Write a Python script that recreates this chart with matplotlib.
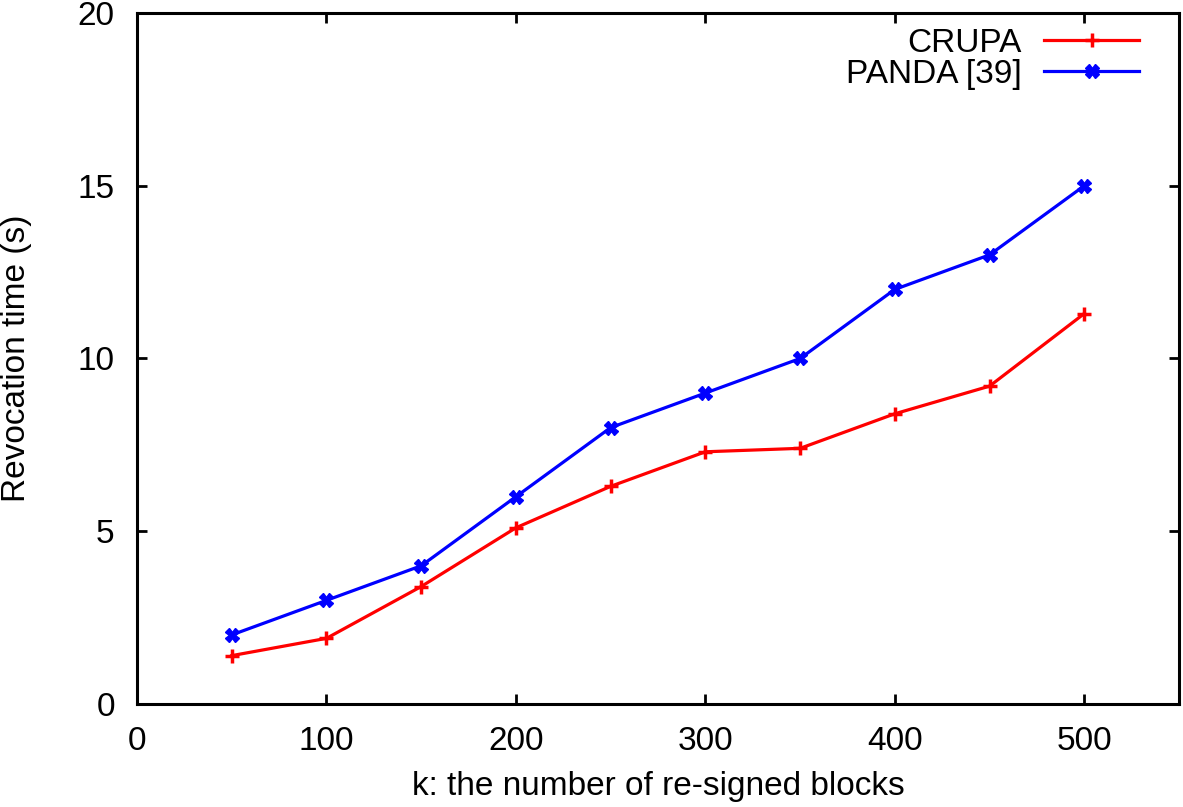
import matplotlib
matplotlib.use("Agg")
import matplotlib.pyplot as plt

plt.rcParams['font.family'] = ['Liberation Sans', 'DejaVu Sans']

k = [50, 100, 150, 200, 250, 300, 350, 400, 450, 500]
crupa = [1.4, 1.9, 3.4, 5.1, 6.3, 7.3, 7.4, 8.4, 9.2, 11.3]
panda = [2, 3, 4, 6, 8, 9, 10, 12, 13, 15]

W, H = 1183, 807
fig = plt.figure(figsize=(W / 100, H / 100), dpi=100)
ax = fig.add_axes([137 / W, (H - 704) / H, 1042 / W, 691 / H])

ax.plot(k, crupa, color='#ff0000', lw=2.3, marker='+', ms=10, mew=2.5, label='CRUPA')
ax.plot(k, panda, color='#0000ff', lw=2.3, marker='X', ms=10, mew=1, label='PANDA [39]')

ax.set_xlim(0, 550)
ax.set_ylim(0, 20)
ax.set_xticks([0, 100, 200, 300, 400, 500])
ax.set_yticks([0, 5, 10, 15, 20])
ax.tick_params(direction='in', length=7, width=2, labelsize=24, top=True, right=True, pad=16)
for s in ax.spines.values():
    s.set_linewidth(2.2)
ax.set_xlabel('k: the number of re-signed blocks', fontsize=24, labelpad=10)
ax.set_ylabel('Revocation time (s)', fontsize=24, labelpad=33)

ax.legend(loc='upper right', bbox_to_anchor=(1139 / W, (H - 28) / H),
          bbox_transform=fig.transFigure, frameon=False, markerfirst=False,
          fontsize=24, handlelength=2.85, borderaxespad=0, borderpad=0,
          labelspacing=0.0, handletextpad=0.66)

fig.savefig('out.png', dpi=100)
